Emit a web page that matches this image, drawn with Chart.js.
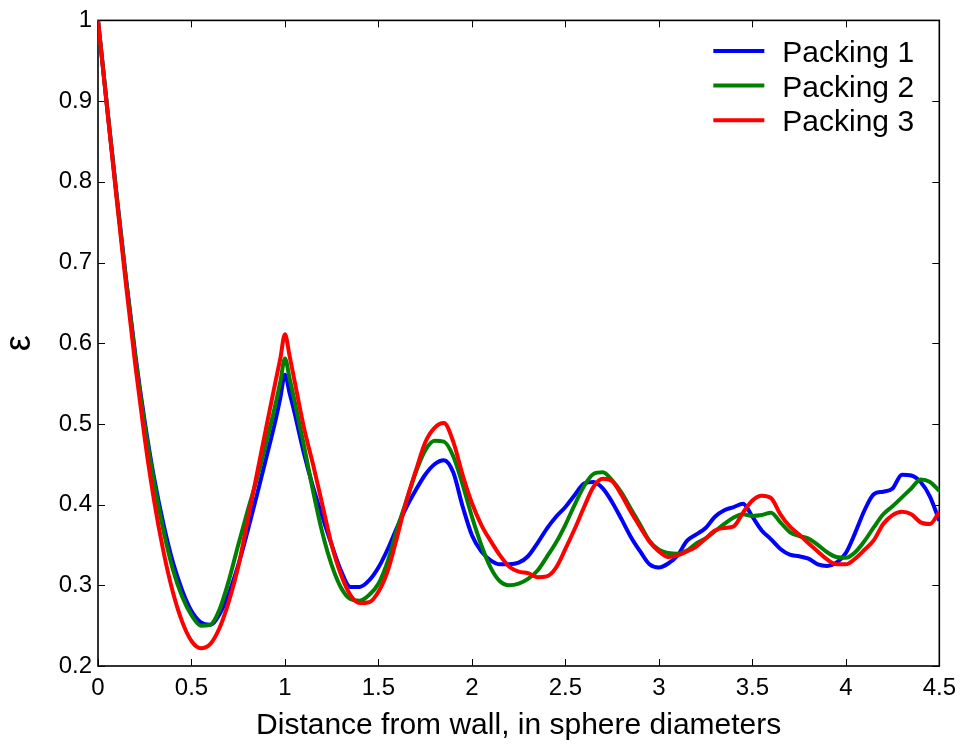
<!DOCTYPE html>
<html>
<head>
<meta charset="utf-8">
<script src="https://cdn.jsdelivr.net/npm/chart.js@4.4.1/dist/chart.umd.min.js"></script>
<style>
  html, body { margin: 0; padding: 0; background: #fff; }
</style>
</head>
<body>
<canvas id="porosityChart" width="964" height="751"></canvas>
<script>
// distance from the wall, in sphere diameters (extra samples around the cusp at 1)
var distance = [
  0.00, 0.05, 0.10, 0.15, 0.20, 0.25, 0.30, 0.35, 0.40, 0.45,
  0.50, 0.55, 0.60, 0.65, 0.70, 0.75, 0.80, 0.85, 0.90, 0.95,
  0.975, 1.00, 1.025,
  1.05, 1.10, 1.15, 1.20, 1.25, 1.30, 1.35, 1.40, 1.45,
  1.50, 1.55, 1.60, 1.65, 1.70, 1.75, 1.80, 1.85, 1.90, 1.95,
  2.00, 2.05, 2.10, 2.15, 2.20, 2.25, 2.30, 2.35, 2.40, 2.45,
  2.50, 2.55, 2.60, 2.65, 2.70, 2.75, 2.80, 2.85, 2.90, 2.95,
  3.00, 3.05, 3.10, 3.15, 3.20, 3.25, 3.30, 3.35, 3.40, 3.45,
  3.50, 3.55, 3.60, 3.65, 3.70, 3.75, 3.80, 3.85, 3.90, 3.95,
  4.00, 4.05, 4.10, 4.15, 4.20, 4.25, 4.30, 4.35, 4.40, 4.45,
  4.50
];

// local porosity for each packing
var packing1 = [
  1.000, 0.890, 0.783, 0.680, 0.585, 0.503, 0.433, 0.376, 0.329, 0.294,
  0.268, 0.254, 0.251, 0.264, 0.290, 0.325, 0.367, 0.412, 0.458, 0.505,
  0.532, 0.561, 0.538,
  0.515, 0.465, 0.422, 0.385, 0.350, 0.318, 0.298, 0.298, 0.306,
  0.322, 0.345, 0.372, 0.397, 0.418, 0.437, 0.450, 0.455, 0.440, 0.398,
  0.362, 0.342, 0.331, 0.326, 0.326, 0.328, 0.336, 0.352, 0.370, 0.385,
  0.397, 0.412, 0.426, 0.428, 0.420, 0.403, 0.382, 0.360, 0.342, 0.326,
  0.322, 0.327, 0.337, 0.355, 0.363, 0.371, 0.385, 0.393, 0.397, 0.401,
  0.385, 0.368, 0.357, 0.345, 0.338, 0.336, 0.333, 0.326, 0.324, 0.328,
  0.340, 0.365, 0.393, 0.413, 0.416, 0.420, 0.437, 0.436, 0.428, 0.410,
  0.380
];

var packing2 = [
  1.000, 0.890, 0.782, 0.678, 0.582, 0.498, 0.428, 0.368, 0.320, 0.286,
  0.263, 0.250, 0.251, 0.270, 0.306, 0.350, 0.392, 0.432, 0.477, 0.525,
  0.552, 0.581, 0.556,
  0.530, 0.475, 0.417, 0.365, 0.325, 0.297, 0.283, 0.281, 0.288,
  0.302, 0.330, 0.370, 0.405, 0.440, 0.467, 0.479, 0.478, 0.460, 0.425,
  0.385, 0.350, 0.322, 0.305, 0.300, 0.302, 0.308, 0.318, 0.335, 0.353,
  0.375, 0.400, 0.423, 0.438, 0.440, 0.430, 0.415, 0.395, 0.375, 0.355,
  0.344, 0.340, 0.339, 0.343, 0.352, 0.358, 0.367, 0.376, 0.384, 0.388,
  0.386, 0.387, 0.390, 0.378, 0.366, 0.361, 0.358, 0.350, 0.341, 0.335,
  0.334, 0.341, 0.355, 0.372, 0.388, 0.398, 0.409, 0.420, 0.431, 0.428,
  0.417
];

var packing3 = [
  1.000, 0.888, 0.778, 0.672, 0.572, 0.482, 0.405, 0.342, 0.292, 0.255,
  0.231, 0.222, 0.227, 0.247, 0.280, 0.323, 0.380, 0.438, 0.496, 0.553,
  0.581, 0.611, 0.584,
  0.555, 0.497, 0.450, 0.400, 0.350, 0.313, 0.288, 0.278, 0.279,
  0.292, 0.318, 0.360, 0.405, 0.442, 0.477, 0.495, 0.501, 0.478, 0.437,
  0.402, 0.375, 0.355, 0.337, 0.323, 0.317, 0.315, 0.310, 0.311, 0.322,
  0.345, 0.370, 0.397, 0.422, 0.432, 0.429, 0.412, 0.391, 0.372, 0.354,
  0.342, 0.335, 0.337, 0.342, 0.348, 0.358, 0.368, 0.371, 0.373, 0.390,
  0.405, 0.411, 0.408, 0.388, 0.373, 0.363, 0.352, 0.342, 0.332, 0.326,
  0.326, 0.333, 0.344, 0.356, 0.376, 0.387, 0.391, 0.388, 0.378, 0.376,
  0.391
];

var seriesNames = ['Packing 1', 'Packing 2', 'Packing 3'];
var seriesColors = ['#0000ff', '#008000', '#ff0000'];

var xTicks = [0, 0.5, 1, 1.5, 2, 2.5, 3, 3.5, 4, 4.5];
var yTicks = [0.2, 0.3, 0.4, 0.5, 0.6, 0.7, 0.8, 0.9, 1];

var FONT = '"Liberation Sans", Arial, Helvetica, sans-serif';

function toPoints(values) {
  return distance.map(function (d, i) { return { x: d, y: values[i] }; });
}

// box around the plot with inward ticks on all four sides
var frameTicks = {
  id: 'frameTicks',
  beforeDatasetsDraw: function (chart) {
    var ctx = chart.ctx, a = chart.chartArea;
    var xs = chart.scales.x, ys = chart.scales.y;
    var len = 7;
    ctx.save();
    ctx.strokeStyle = '#000';
    ctx.lineWidth = 1;
    ctx.beginPath();
    xs.ticks.forEach(function (t) {
      var px = Math.round(xs.getPixelForValue(t.value)) + 0.5;
      ctx.moveTo(px, a.bottom); ctx.lineTo(px, a.bottom - len);
      ctx.moveTo(px, a.top); ctx.lineTo(px, a.top + len);
    });
    ys.ticks.forEach(function (t) {
      var py = Math.round(ys.getPixelForValue(t.value)) + 0.5;
      ctx.moveTo(a.left, py); ctx.lineTo(a.left + len, py);
      ctx.moveTo(a.right, py); ctx.lineTo(a.right - len, py);
    });
    ctx.stroke();
    ctx.lineWidth = 1.6;
    ctx.strokeRect(a.left, a.top, a.right - a.left, a.bottom - a.top);
    ctx.restore();
  }
};

// legend in the upper right corner, no box
var cornerLegend = {
  id: 'cornerLegend',
  afterDatasetsDraw: function (chart) {
    var ctx = chart.ctx, a = chart.chartArea;
    ctx.save();
    ctx.font = '30px ' + FONT;
    ctx.textBaseline = 'alphabetic';
    ctx.lineCap = 'butt';
    chart.data.datasets.forEach(function (ds, i) {
      var y = a.top + 30.5 + i * 34.7;
      ctx.strokeStyle = ds.borderColor;
      ctx.lineWidth = 4;
      ctx.beginPath();
      ctx.moveTo(a.right - 226, y);
      ctx.lineTo(a.right - 175, y);
      ctx.stroke();
      ctx.fillStyle = '#000';
      ctx.fillText(ds.label, a.right - 157, y + 11);
    });
    ctx.restore();
  }
};

var series = [packing1, packing2, packing3];

var ctx = document.getElementById('porosityChart').getContext('2d');
var porosityChart = new Chart(ctx, {
  type: 'line',
  data: {
    datasets: series.map(function (values, i) {
      return {
        label: seriesNames[i],
        data: toPoints(values),
        borderColor: seriesColors[i],
        backgroundColor: seriesColors[i],
        borderWidth: 4,
        pointRadius: 0,
        cubicInterpolationMode: 'monotone',
        order: series.length - i, // later packings drawn on top
        fill: false
      };
    })
  },
  options: {
    responsive: false,
    animation: false,
    layout: { padding: { top: 17, right: 22, left: 0, bottom: 0 } },
    plugins: {
      legend: { display: false },
      tooltip: { enabled: false }
    },
    scales: {
      x: {
        type: 'linear',
        min: 0,
        max: 4.5,
        afterBuildTicks: function (scale) {
          scale.ticks = xTicks.map(function (v) { return { value: v }; });
        },
        afterFit: function (scale) { scale.height = 85; },
        grid: { display: false, drawTicks: false },
        border: { display: false },
        ticks: {
          color: '#000',
          padding: 8,
          maxRotation: 0,
          font: { family: FONT, size: 24 },
          callback: function (v) { return String(v); }
        },
        title: {
          display: true,
          text: 'Distance from wall, in sphere diameters',
          color: '#000',
          padding: { top: 0, bottom: 7 },
          font: { family: FONT, size: 30 }
        }
      },
      y: {
        min: 0.2,
        max: 1,
        afterBuildTicks: function (scale) {
          scale.ticks = yTicks.map(function (v) { return { value: v }; });
        },
        afterFit: function (scale) { scale.width = 98; },
        grid: { display: false, drawTicks: false },
        border: { display: false },
        ticks: {
          color: '#000',
          padding: 6,
          font: { family: FONT, size: 24 },
          callback: function (v) { return String(v); }
        },
        title: {
          display: true,
          text: 'ε',
          color: '#000',
          padding: 0,
          font: { family: FONT, size: 36, lineHeight: 1.14 }
        }
      }
    }
  },
  plugins: [frameTicks, cornerLegend]
});
</script>
</body>
</html>
